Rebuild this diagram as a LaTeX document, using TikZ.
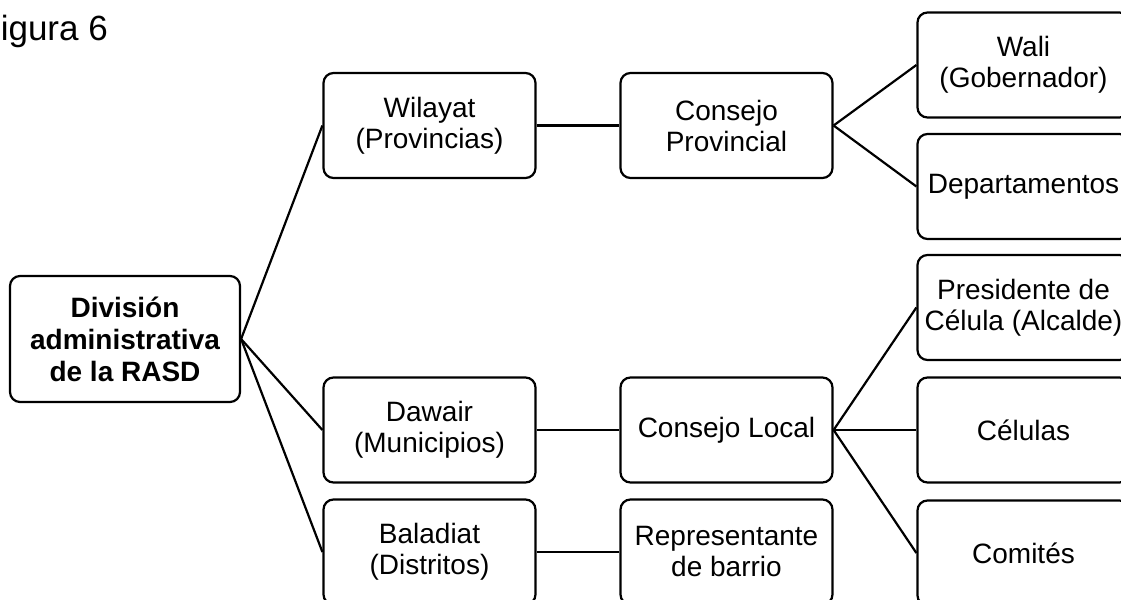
\documentclass[tikz,border=0pt]{standalone}
\usepackage{fontspec}
\setmainfont{Liberation Sans}
\usetikzlibrary{positioning}

\tikzset{
  caja/.style={draw, line width=1.1pt, rounded corners=5pt, align=center,
    minimum width=106pt, minimum height=52.5pt, inner sep=2pt,
    font=\fontsize{14}{15.5}\selectfont},
  enlace/.style={line width=1.1pt}
}

\begin{document}
\begin{tikzpicture}[x=0.5pt, y=-0.5pt]
    \useasboundingbox (0,0) rectangle (1121,600);
    \clip (0,0) rectangle (1121,600);

    % Title
    \node[anchor=base west, inner sep=0pt, font=\fontsize{17.5}{21}\selectfont] (titulo) at (-21,40) {Figura 6};

    % Root
    \node[caja, minimum width=115pt, minimum height=63pt, font=\bfseries\fontsize{14}{16}\selectfont] (raiz) at (125,339) {División\\administrativa\\de la RASD};

    % First level
    \node[caja] (wilayat) at (429.5,125.5) {Wilayat\\(Provincias)};
    \node[caja] (dawair) at (429.5,430) {Dawair\\(Municipios)};
    \node[caja] (baladiat) at (429.5,552) {Baladiat\\(Distritos)};

    % Second level
    \node[caja] (cprov) at (726.5,125.5) {Consejo\\Provincial};
    \node[caja] (clocal) at (726.5,430) {Consejo Local};
    \node[caja] (repre) at (726.5,552) {Representante\\de barrio};

    % Third level
    \node[caja] (wali) at (1023.5,65) {Wali\\(Gobernador)};
    \node[caja] (depto) at (1023.5,186.5) {Departamentos};
    \node[caja] (presi) at (1023.5,307.5) {Presidente de\\Célula (Alcalde)};
    \node[caja] (celulas) at (1023.5,430) {Células};
    \node[caja] (comites) at (1023.5,553) {Comités};

    % Connectors
    \draw[enlace] (raiz.east) -- (wilayat.west);
    \draw[enlace] (raiz.east) -- (dawair.west);
    \draw[enlace] (raiz.east) -- (baladiat.west);
    \draw[enlace] (wilayat.east) -- (cprov.west);
    \draw[enlace] (dawair.east) -- (clocal.west);
    \draw[enlace] (baladiat.east) -- (repre.west);
    \draw[enlace] (cprov.east) -- (wali.west);
    \draw[enlace] (cprov.east) -- (depto.west);
    \draw[enlace] (clocal.east) -- (presi.west);
    \draw[enlace] (clocal.east) -- (celulas.west);
    \draw[enlace] (clocal.east) -- (comites.west);
\end{tikzpicture}
\end{document}
